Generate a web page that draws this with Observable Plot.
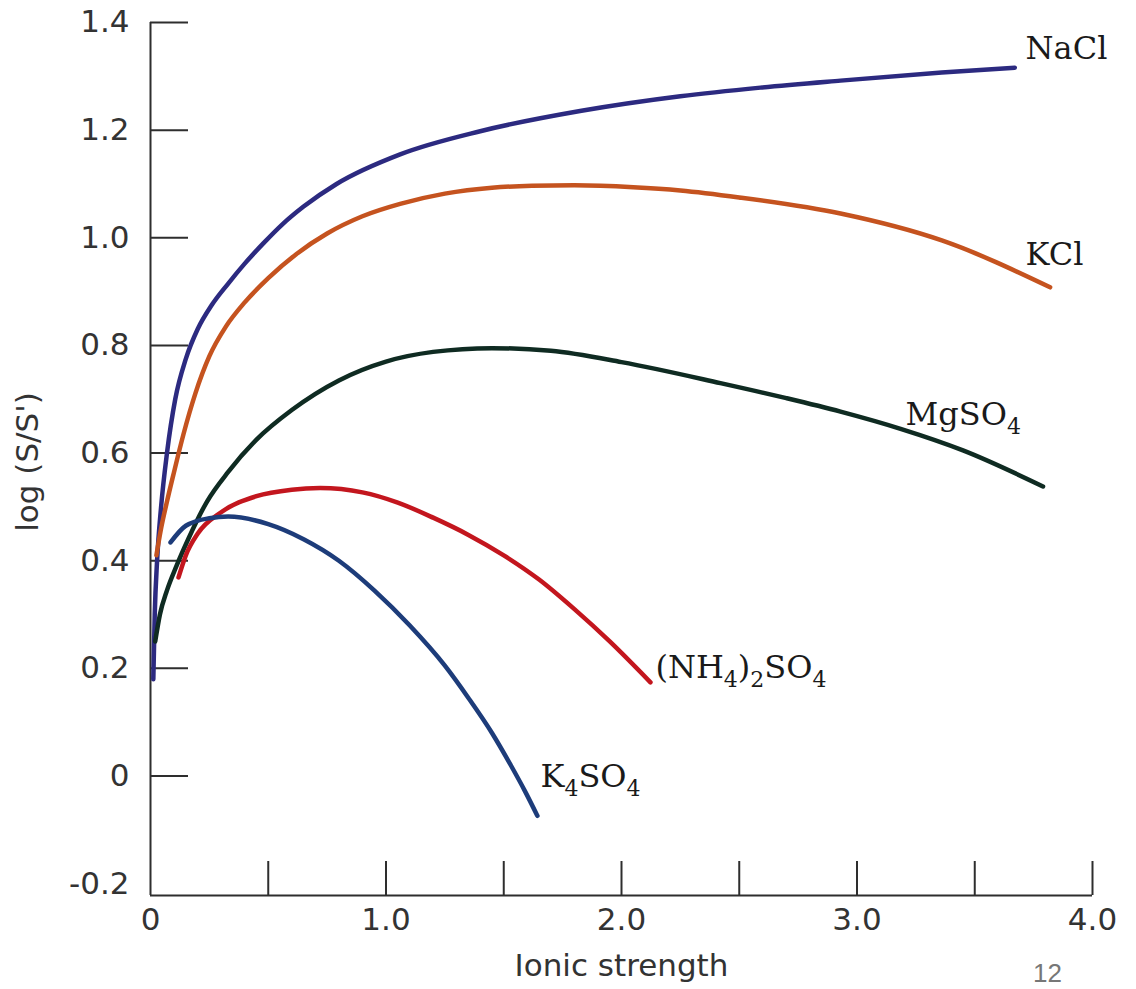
<!DOCTYPE html>
<html>
<head>
<meta charset="utf-8">
<script src="https://cdn.jsdelivr.net/npm/d3@7"></script>
<script src="https://cdn.jsdelivr.net/npm/@observablehq/plot@0.6"></script>
<style>
  html, body { margin: 0; padding: 0; background: #ffffff; }
  #chart svg { display: block; }
</style>
</head>
<body>
<div id="chart"></div>
<script>
// ---- Series (ionic strength, log(S/S')) ----
const naclX = [0.012, 0.018, 0.028, 0.045, 0.07, 0.105, 0.15, 0.20, 0.26, 0.33, 0.40, 0.48, 0.56, 0.65, 0.79, 1.06, 1.40, 1.83, 2.25, 2.59, 2.93, 3.36, 3.67];
const naclY = [0.18, 0.30, 0.40, 0.50, 0.60, 0.70, 0.775, 0.83, 0.875, 0.915, 0.952, 0.99, 1.025, 1.058, 1.10, 1.155, 1.198, 1.236, 1.263, 1.279, 1.292, 1.307, 1.316];

const kclX = [0.025, 0.045, 0.07, 0.10, 0.14, 0.19, 0.25, 0.32, 0.40, 0.50, 0.62, 0.75, 0.90, 1.06, 1.25, 1.45, 1.62, 1.80, 2.05, 2.25, 2.50, 2.93, 3.36, 3.82];
const kclY = [0.41, 0.46, 0.51, 0.565, 0.635, 0.71, 0.78, 0.835, 0.88, 0.925, 0.97, 1.008, 1.04, 1.063, 1.082, 1.093, 1.0965, 1.0975, 1.094, 1.088, 1.075, 1.045, 0.995, 0.908];

const mgso4X = [0.02, 0.04, 0.07, 0.11, 0.16, 0.24, 0.33, 0.45, 0.60, 0.80, 1.00, 1.20, 1.45, 1.70, 2.00, 2.42, 2.70, 2.93, 3.185, 3.45, 3.79];
const mgso4Y = [0.25, 0.30, 0.345, 0.39, 0.44, 0.51, 0.565, 0.625, 0.68, 0.735, 0.77, 0.788, 0.795, 0.79, 0.769, 0.73, 0.702, 0.677, 0.645, 0.605, 0.538];

const nh4X = [0.119, 0.15, 0.20, 0.30, 0.45, 0.60, 0.72, 0.90, 1.05, 1.20, 1.35, 1.50, 1.65, 1.80, 1.95, 2.123];
const nh4Y = [0.369, 0.41, 0.45, 0.49, 0.52, 0.532, 0.535, 0.527, 0.508, 0.48, 0.448, 0.41, 0.365, 0.31, 0.25, 0.174];

const k4so4X = [0.085, 0.15, 0.25, 0.33, 0.50, 0.65, 0.80, 0.95, 1.10, 1.25, 1.35, 1.45, 1.53, 1.59, 1.643];
const k4so4Y = [0.434, 0.465, 0.479, 0.482, 0.468, 0.44, 0.40, 0.345, 0.28, 0.205, 0.145, 0.08, 0.02, -0.028, -0.074];

const seriesNames = ["NaCl", "KCl", "MgSO4", "(NH4)2SO4", "K4SO4"];
const seriesColors = ["#2c2a80", "#c5531f", "#0f2b22", "#c3161e", "#1d3c7a"];
const seriesXs = [naclX, kclX, mgso4X, nh4X, k4so4X];
const seriesYs = [naclY, kclY, mgso4Y, nh4Y, k4so4Y];

// curve label anchors (data units)
const labelX = [3.716, 3.716, 3.206, 2.144, 1.656];
const labelY = [1.351, 0.968, 0.671, 0.202, -0.002];

// ---- Axes ----
const xDomain = [0, 4];
const yDomain = [-0.222, 1.4];
const xTickValues = [0, 1, 2, 3, 4];
const xTickLabels = ["0", "1.0", "2.0", "3.0", "4.0"];
const xTickMarks = [0.5, 1, 1.5, 2, 2.5, 3, 3.5, 4];
const yTickValues = [-0.2, 0, 0.2, 0.4, 0.6, 0.8, 1.0, 1.2, 1.4];
const yTickLabels = ["-0.2", "0", "0.2", "0.4", "0.6", "0.8", "1.0", "1.2", "1.4"];
const yTickMarks = [0, 0.2, 0.4, 0.6, 0.8, 1.0, 1.2, 1.4];
const xTitle = "Ionic strength";
const yTitle = "log (S/S')";
const pageNumber = "12";

const rows = seriesNames.flatMap((name, k) =>
  seriesXs[k].map((x, i) => ({series: name, x, y: seriesYs[k][i]}))
);
const labelRows = seriesNames.map((name, k) => ({text: name, x: labelX[k], y: labelY[k]}));
const xLabelMap = new Map(xTickValues.map((v, i) => [v, xTickLabels[i]]));
const yLabelMap = new Map(yTickValues.map((v, i) => [v, yTickLabels[i]]));

const axisColor = "#2e2e2e";
const sansFont = "DejaVu Sans";

const plot = Plot.plot({
  width: 1136,
  height: 989,
  marginLeft: 150,
  marginRight: 44,
  marginTop: 22,
  marginBottom: 94,
  style: {background: "#ffffff", overflow: "visible"},
  x: {domain: xDomain},
  y: {domain: yDomain},
  color: {domain: seriesNames, range: seriesColors},
  marks: [
    Plot.ruleX([xDomain[0]], {stroke: axisColor, strokeWidth: 2}),
    Plot.ruleY([yDomain[0]], {stroke: axisColor, strokeWidth: 2}),
    Plot.axisY(yTickMarks, {tickSize: -38, tickFormat: () => "", color: axisColor, strokeWidth: 2, label: null}),
    Plot.axisY(yTickValues, {tickSize: 0, tickPadding: 21, tickFormat: d => yLabelMap.get(d), fontSize: 31, fontFamily: sansFont, color: "#333", label: null}),
    Plot.axisX(xTickMarks, {tickSize: -34, tickFormat: () => "", color: axisColor, strokeWidth: 2, label: null}),
    Plot.axisX(xTickValues, {tickSize: 0, tickPadding: 12, tickFormat: d => xLabelMap.get(d), fontSize: 31, fontFamily: sansFont, color: "#333", label: null}),
    Plot.line(rows, {x: "x", y: "y", z: "series", stroke: "series", strokeWidth: 4.5, curve: "monotone-x"}),
    Plot.text(labelRows, {x: "x", y: "y", text: "text", textAnchor: "start", fontFamily: "DejaVu Serif", fontSize: 32, fill: "#1a1a1a"}),
    Plot.text([yTitle], {frameAnchor: "left", textAnchor: "middle", rotate: -90, dx: -122, dy: 3, fontFamily: sansFont, fontSize: 31, fill: "#333"}),
    Plot.text([xTitle], {frameAnchor: "bottom", textAnchor: "middle", dy: 80, fontFamily: sansFont, fontSize: 31, fill: "#333"}),
    Plot.text([pageNumber], {frameAnchor: "bottom-right", dx: -45, dy: 86, textAnchor: "middle", lineAnchor: "bottom", fontFamily: "Liberation Sans", fontSize: 26, fill: "#777"})
  ]
});

// render chemical-formula digits as subscripts
d3.select(plot).selectAll("text")
  .filter(function() { return seriesNames.includes(this.textContent); })
  .each(function() {
    const s = this.textContent;
    this.textContent = "";
    const parts = s.match(/\d+|\D+/g);
    let sub = false;
    for (const p of parts) {
      const t = d3.select(this).append("tspan").text(p);
      if (/^\d+$/.test(p)) {
        t.attr("font-size", 22);
        if (!sub) t.attr("dy", 9);
        sub = true;
      } else {
        if (sub) t.attr("dy", -9);
        sub = false;
      }
    }
  });

document.getElementById("chart").appendChild(plot);
</script>
</body>
</html>
